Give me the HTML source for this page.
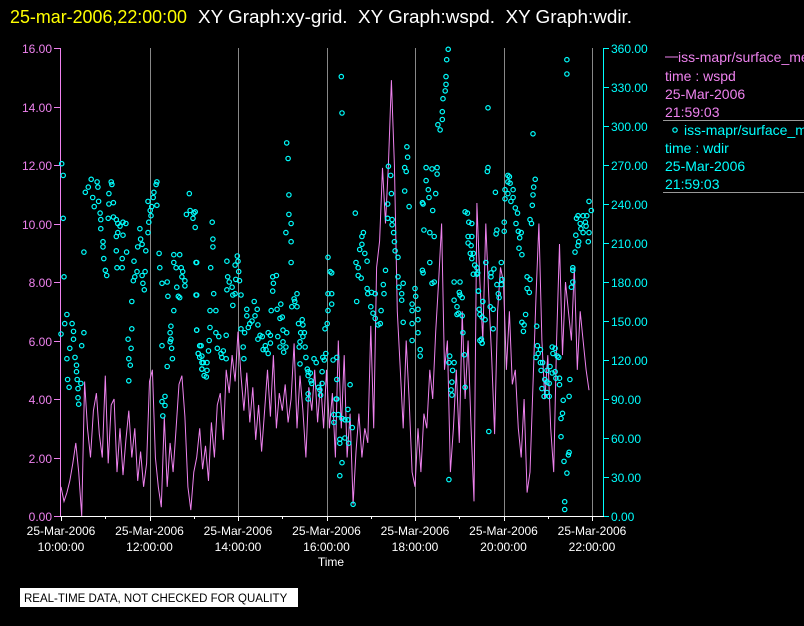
<!DOCTYPE html>
<html><head><meta charset="utf-8">
<style>
html,body{margin:0;padding:0;background:#000;}
body{width:804px;height:626px;overflow:hidden;position:relative;font-family:"Liberation Sans",sans-serif;}
svg{position:absolute;left:0;top:0;}
</style></head>
<body>
<svg id="chart" width="804" height="626" viewBox="0 0 804 626" xmlns="http://www.w3.org/2000/svg" font-family="Liberation Sans, sans-serif">
<text x="10" y="23" fill="#ffff00" font-size="18" textLength="177" lengthAdjust="spacingAndGlyphs">25-mar-2006,22:00:00</text>
<text x="198" y="23" fill="#ffffff" font-size="18" textLength="434" lengthAdjust="spacingAndGlyphs" xml:space="preserve">XY Graph:xy-grid.  XY Graph:wspd.  XY Graph:wdir.</text>
<g id="grid"></g>
<g id="axes"></g>
<g id="series"></g>
<g font-size="14">
<line x1="665" y1="57" x2="678" y2="57" stroke="#ee82ee" stroke-width="1"/>
<text x="678" y="62" fill="#ee82ee">iss-mapr/surface_met</text>
<text x="665" y="81" fill="#ee82ee">time : wspd</text>
<text x="665" y="99" fill="#ee82ee">25-Mar-2006</text>
<text x="665" y="117" fill="#ee82ee">21:59:03</text>
<line x1="663" y1="120.5" x2="804" y2="120.5" stroke="#999" stroke-width="1"/>
<circle cx="675" cy="130" r="2.2" fill="none" stroke="#00ffff" stroke-width="1.2"/>
<text x="684" y="135" fill="#00ffff">iss-mapr/surface_met</text>
<text x="665" y="153" fill="#00ffff">time : wdir</text>
<text x="665" y="171" fill="#00ffff">25-Mar-2006</text>
<text x="665" y="189" fill="#00ffff">21:59:03</text>
<line x1="663" y1="192.5" x2="804" y2="192.5" stroke="#999" stroke-width="1"/>
</g>
<text x="331" y="566" fill="#fff" font-size="12" text-anchor="middle">Time</text>
<rect x="20" y="588" width="278" height="19" fill="#fff"/>
<text x="24" y="602" fill="#000" font-size="11.5">REAL-TIME DATA, NOT CHECKED FOR QUALITY</text>
</svg>
<script>
// wind speed: one value every 4 minutes from 10:00
const wspdValues = [
1.0,0.5,0.8,1.2,1.8,2.5,1.5,0.0,4.6,3.0,2.0,3.6,4.2,2.8,2.0,4.8,1.8,3.8,4.0,1.5,3.0,1.4,2.6,3.6,2.0,3.0,1.2,2.2,1.0,1.8,
4.6,5.0,2.0,1.0,0.3,3.4,1.0,2.5,1.5,3.0,4.5,4.8,3.4,1.0,0.2,1.5,2.0,3.0,1.6,2.4,1.2,3.2,2.0,3.8,4.2,2.6,5.0,4.2,5.5,4.6,
6.3,4.8,3.6,4.9,3.2,4.4,2.6,3.8,2.2,3.6,5.0,3.4,5.5,3.0,4.2,3.6,4.5,3.2,4.0,5.9,3.0,4.8,3.6,2.0,4.4,3.6,5.0,3.2,4.6,3.0,
5.0,3.0,4.2,2.0,6.0,3.0,5.5,2.0,3.5,0.4,2.2,3.5,2.0,3.0,2.5,6.5,3.0,8.5,9.4,11.9,10.0,12.0,14.9,12.0,7.0,5.0,3.0,6.0,4.0,1.5,
1.0,3.0,1.5,3.5,3.0,5.0,4.0,6.3,8.0,10.0,5.0,6.0,1.5,3.0,5.0,2.5,7.0,4.0,6.0,3.0,0.5,10.7,8.0,6.0,10.0,7.5,5.4,2.8,7.0,8.5,
8.0,5.0,7.0,4.5,5.0,3.0,2.0,4.0,0.8,1.5,4.5,7.5,10.0,6.0,4.0,5.5,3.0,1.5,6.0,9.3,5.5,8.0,7.0,6.0,8.5,5.0,7.0,6.0,5.0,4.3];
const wspdStepMin = 4;
// wind direction samples: minutes after 10:00 and degrees
const wdirMinutes = [1,3,3,4,8,5,15,0,17,12,17,19,8,21,21,9,11,22,23,23,24,27,28,31,31,33,37,41,43,45,49,50,51,53,54,54,57,57,58,60,62,65,68,69,65,71,64,71,75,77,80,84,88,77,84,75,75,83,76,83,89,99,103,100,98,110,114,111,113,104,108,110,107,96,96,91,95,92,94,92,115,118,119,121,123,125,126,129,130,118,122,130,133,134,137,144,145,153,149,148,149,148,137,150,151,144,141,137,141,138,153,161,153,156,163,165,164,168,168,157,161,159,174,170,175,180,179,182,183,183,184,188,186,191,193,191,194,
182,205,206,206,184,203,225,184,207,202,210,202,184,201,210,214,212,190,186,188,191,198,200,217,220,218,224,191,198,197,224,226,228,232,225,237,242,241,236,239,240,233,236,233,244,244,249,247,248,252,252,256,254,259,262,266,267,263,270,267,273,277,281,278,274,284,284,281,287,288,292,287,285,293,297,300,298,294,297,301,305,302,301,306,306,308,309,309,312,305,312,312,316,317,313,320,320,322,327,328,325,330,328,324,323,331,332,324,334,335,338,335,339,340,343,346,335,335,349,351,352,354,354,355,359,357,369,374,358,361,362,367,362,367,362,365,367,374,373,370,370,376,378,381,378,381,378,380,381,
392,389,385,389,395,390,385,396,374,399,410,408,408,405,412,415,400,403,403,407,401,415,416,421,426,420,423,426,430,433,434,437,438,440,443,443,444,447,448,449,449,451,452,453,457,457,458,462,464,462,464,466,468,469,470,466,472,476,476,476,480,481,484,484,484,476,487,487,490,491,492,495,495,498,499,503,504,506,500,500,490,491,503,506,510,510,508,511,514,517,517,518,521,522,522,523,525,527,526,533,531,530,529,530,526,533,541,533,537,539,537,541,544,540,544,545,547,548,548,551,553,552,556,552,555,559,557,564,559,565,566,572,567,571,568,571,
557,557,561,564,566,572,568,575,570,571,579,579,578,589,591,590,576,587,583,583,582,586,586,591,597,593,594,597,598,580,601,601,606,608,606,609,602,606,613,613,610,602,616,619,617,620,624,622,621,625,632,636,632,635,630,625,628,627,636,638,640,643,641,640,639,645,646,650,644,647,650,653,651,659,663,656,659,662,652,655,659,662,666,670,667,673,675,670,666,671,676,676,690,689,681,680,678,678,682,686,688,689,683,683,686,686,694,694,692,694,697,698,699,701,705,704,708,711,713,712,708,716,715,716,719,702,701];
const wdirValues = [271,262,229,184,155,148,148,140,142,129,136,122,121,116,111,105,99,105,98,91,86,102,131,141,203,249,253,259,245,238,257,253,242,233,228,221,211,207,198,189,185,248,257,255,240,241,229,230,228,225,223,226,225,218,216,215,204,198,191,191,203,196,188,184,181,185,188,179,174,207,213,209,221,165,144,136,129,121,116,104,204,218,226,235,238,245,249,255,257,242,231,239,202,191,179,180,169,158,146,141,136,134,131,129,121,115,92,88,85,77,201,201,195,191,191,188,184,181,177,176,168,169,248,232,235,233,229,222,195,170,143,131,125,123,118,113,108,
234,226,213,207,195,191,196,170,171,158,158,145,143,135,141,138,129,131,125,122,118,118,127,125,127,122,121,113,112,107,139,184,180,176,174,182,181,188,193,200,196,170,171,162,170,144,141,130,121,159,154,148,145,150,165,159,147,154,139,136,138,131,125,128,128,133,139,141,173,179,185,184,158,159,152,153,163,138,130,134,130,126,143,141,287,275,247,232,225,218,211,195,167,165,161,171,161,148,151,147,141,141,138,134,130,130,122,117,113,111,110,108,104,102,121,118,94,90,99,97,93,102,111,122,125,120,120,122,144,148,158,163,171,171,199,188,187,105,90,78,72,78,59,75,56,41,31,338,310,
101,82,74,74,68,56,60,9,90,233,218,215,209,205,202,196,195,191,185,183,165,175,171,172,171,161,156,152,147,148,158,178,171,189,229,240,269,262,248,228,224,218,211,204,199,184,176,171,179,166,149,268,265,284,276,250,238,163,148,158,175,169,159,151,141,135,128,123,241,240,220,268,258,251,245,267,235,215,218,195,189,187,179,180,268,263,248,301,297,305,311,321,327,332,338,351,359,123,118,118,112,103,97,93,28,180,180,166,161,156,155,170,168,172,154,141,124,99,234,233,226,215,208,210,202,202,198,191,186,187,173,165,159,153,135,133,
225,215,193,186,173,165,155,151,136,133,314,268,265,249,220,217,195,190,187,184,161,159,144,178,178,171,168,195,182,65,219,226,262,261,257,256,251,248,251,245,242,244,237,233,225,219,218,214,206,201,184,182,175,172,155,149,147,142,228,225,294,259,253,247,239,146,131,128,122,125,118,118,112,112,115,105,103,102,98,92,95,92,130,129,125,123,122,111,110,106,106,101,105,92,89,79,75,61,42,33,47,49,11,5,351,340,189,191,176,180,203,216,229,231,221,225,231,226,231,223,218,218,211,242,235,211,208];

const X0 = 61, X1 = 592, TOTAL_MIN = 720;
const YTOP = 48, YBOT = 516;
function xScale(min){ return X0 + (min / TOTAL_MIN) * (X1 - X0); }
function yLeft(v){ return YBOT - (v / 16) * (YBOT - YTOP); }
function yRight(v){ return YBOT - (v / 360) * (YBOT - YTOP); }

const leftTicks = ["0.00","2.00","4.00","6.00","8.00","10.00","12.00","14.00","16.00"];
const rightTicks = ["0.00","30.00","60.00","90.00","120.00","150.00","180.00","210.00","240.00","270.00","300.00","330.00","360.00"];
const timeTickLabels = ["10:00:00","12:00:00","14:00:00","16:00:00","18:00:00","20:00:00","22:00:00"];
const timeTickDate = "25-Mar-2006";

const NS = "http://www.w3.org/2000/svg";
function mk(tag, attrs, parent){
  const e = document.createElementNS(NS, tag);
  for (const k in attrs) e.setAttribute(k, attrs[k]);
  parent.appendChild(e);
  return e;
}
const grid = document.getElementById('grid');
const axes = document.getElementById('axes');
const series = document.getElementById('series');

for (let i = 1; i < timeTickLabels.length; i++){
  const x = Math.round(xScale(i*120)) + 0.5;
  const l = mk('line', {x1:x, y1:YTOP, x2:x, y2:YBOT, stroke:'#888', 'stroke-width':1}, grid);
  
  
}
const la = mk('line', {x1:60.5, y1:YTOP, x2:60.5, y2:YBOT, stroke:'#ee82ee', 'stroke-width':1}, axes);


leftTicks.forEach((t, i) => {
  const y = Math.round(yLeft(i*2)) + 0.5;
  mk('line', {x1:54, y1:y, x2:60, y2:y, stroke:'#ee82ee'}, axes);
  const tx = mk('text', {x:52, y:y+4.5, fill:'#ee82ee', 'font-size':12, 'text-anchor':'end'}, axes);
  tx.textContent = t;
  
  
});
const ra = mk('line', {x1:603.5, y1:YTOP, x2:603.5, y2:YBOT, stroke:'#00ffff', 'stroke-width':1}, axes);


rightTicks.forEach((t, i) => {
  const y = Math.round(yRight(i*30)) + 0.5;
  mk('line', {x1:603, y1:y, x2:609, y2:y, stroke:'#00ffff'}, axes);
  const tx = mk('text', {x:611, y:y+4.5, fill:'#00ffff', 'font-size':12}, axes);
  tx.textContent = t;
  
  
});
const ba = mk('line', {x1:60, y1:516.5, x2:604, y2:516.5, stroke:'#fff', 'stroke-width':1}, axes);


for (let h = 0; h <= 12; h++){
  const x = Math.round(xScale(h*60)) + 0.5;
  mk('line', {x1:x, y1:516, x2:x, y2:h%2===0?521:519, stroke:'#fff'}, axes);
}
timeTickLabels.forEach((t, i) => {
  const x = xScale(i*120);
  const d = mk('text', {x:x, y:535, fill:'#fff', 'font-size':12, 'text-anchor':'middle'}, axes);
  d.textContent = timeTickDate;
  
  
  const tt = mk('text', {x:x, y:551, fill:'#fff', 'font-size':12, 'text-anchor':'middle'}, axes);
  tt.textContent = t;
  
  
});

let d = '';
wspdValues.forEach((v, i) => {
  const x = xScale(i*wspdStepMin).toFixed(1), y = yLeft(v).toFixed(1);
  d += (i===0 ? 'M' : 'L') + x + ',' + y + ' ';
});
const line = mk('path', {d:d, fill:'none', stroke:'#ee82ee', 'stroke-width':1}, series);



const n = Math.min(wdirMinutes.length, wdirValues.length);
for (let i = 0; i < n; i++){
  const c = mk('circle', {cx:xScale(wdirMinutes[i]).toFixed(1), cy:yRight(wdirValues[i]).toFixed(1), r:2.2, fill:'none', stroke:'#00ffff', 'stroke-width':1.2}, series);
  
  
}
</script>
</body></html>
